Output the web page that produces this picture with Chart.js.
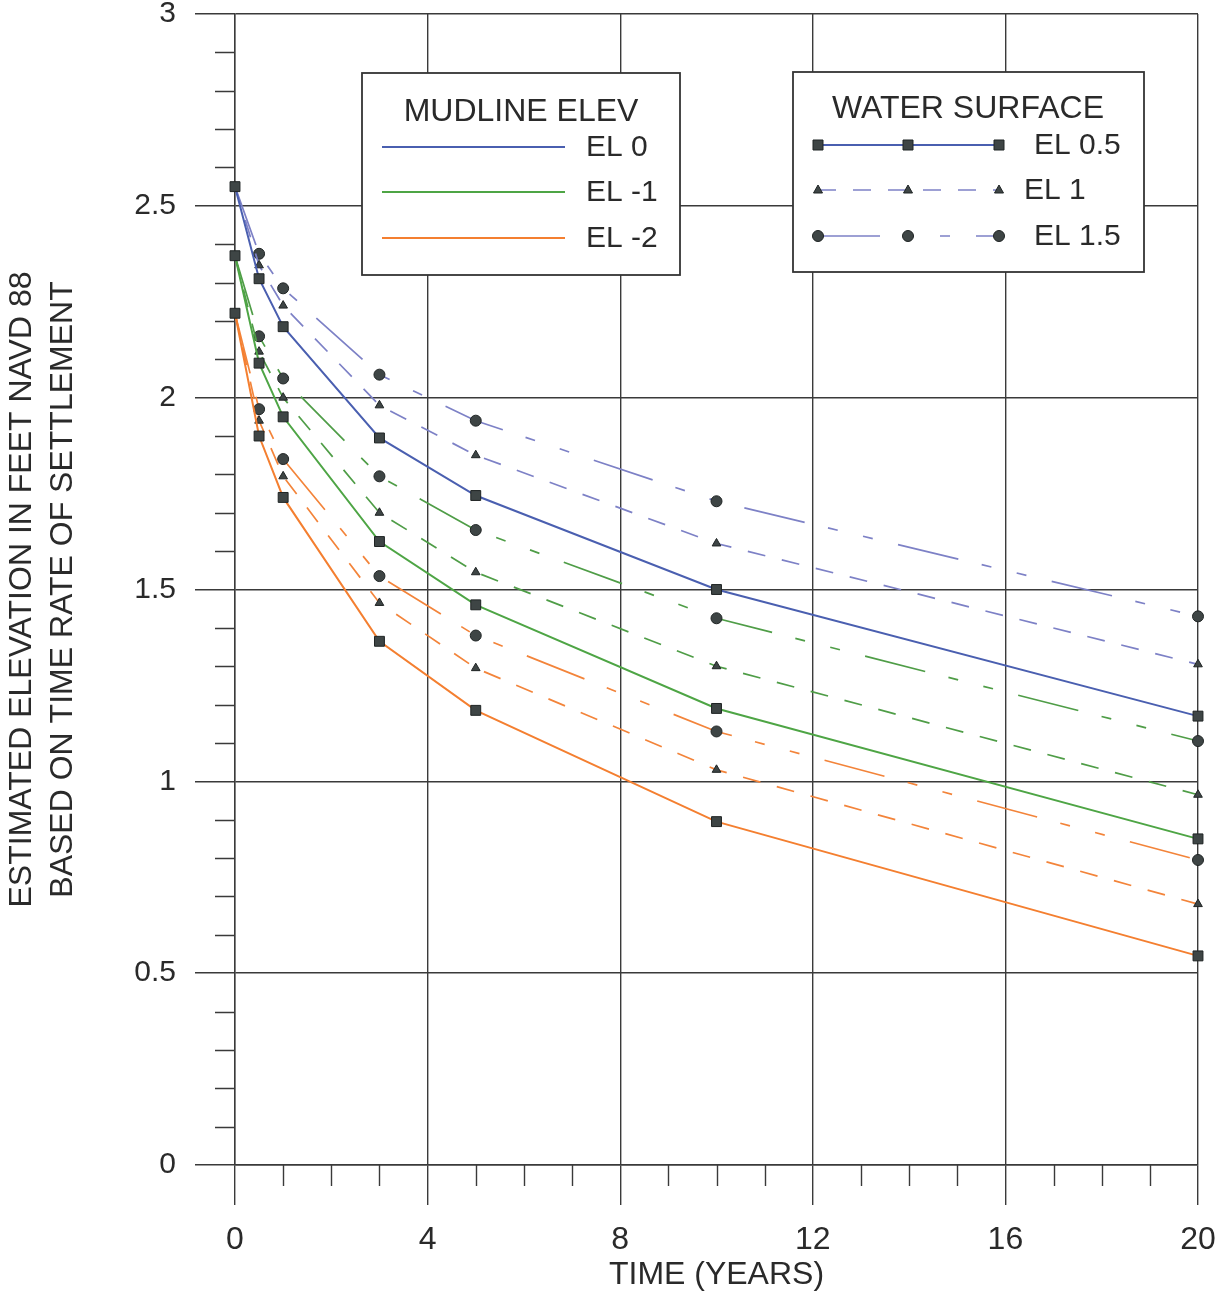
<!DOCTYPE html>
<html>
<head>
<meta charset="utf-8">
<title>Estimated elevation vs time</title>
<script src="https://cdn.jsdelivr.net/npm/chart.js@4.4.1/dist/chart.umd.min.js"></script>
<style>
  html, body { margin: 0; padding: 0; background: #fff; }
  #wrap { width: 1220px; height: 1293px; }
</style>
</head>
<body>
<div id="wrap"><canvas id="settleChart" width="1220" height="1293"></canvas></div>
<script>
// time after placement, years
const years = [0, 0.5, 1, 3, 5, 10, 20];

// mudline EL 0, water surface EL 0.5 / 1 / 1.5
const mud0Ws05 = [2.55, 2.31, 2.185, 1.895, 1.745, 1.50, 1.17];
const mud0Ws10 = [2.55, 2.345, 2.24, 1.98, 1.85, 1.62, 1.305];
const mud0Ws15 = [2.55, 2.375, 2.285, 2.06, 1.94, 1.73, 1.43];

// mudline EL -1
const mudM1Ws05 = [2.37, 2.09, 1.95, 1.625, 1.46, 1.19, 0.85];
const mudM1Ws10 = [2.37, 2.12, 2.00, 1.70, 1.545, 1.30, 0.965];
const mudM1Ws15 = [2.37, 2.16, 2.05, 1.795, 1.655, 1.425, 1.105];

// mudline EL -2
const mudM2Ws05 = [2.22, 1.90, 1.74, 1.365, 1.185, 0.895, 0.545];
const mudM2Ws10 = [2.22, 1.94, 1.795, 1.465, 1.295, 1.03, 0.68];
const mudM2Ws15 = [2.22, 1.97, 1.84, 1.535, 1.38, 1.13, 0.795];

const xTicks = [0, 4, 8, 12, 16, 20];
const yTicks = [0, 0.5, 1, 1.5, 2, 2.5, 3];

const mudLabels = ['EL 0', 'EL -1', 'EL -2'];
const waterLabels = ['EL 0.5', 'EL 1', 'EL 1.5'];

const FONT = '"Liberation Sans", Arial, Helvetica, sans-serif';
const INK = '#2a2a2a';
const GRID = '#3a3a3a';
const MARK_FILL = '#3e4545';
const MARK_EDGE = '#1f2424';

const colors = {
  blue:   { solid: '#4a5fb0', dash: '#7d81c6' },
  green:  { solid: '#4ea545', dash: '#4f9d47' },
  orange: { solid: '#f47f30', dash: '#f3843a' }
};

const dashTri = [18, 17];
const dashCirc = [62, 24, 10, 26, 10, 26];

function pts(vals) {
  return vals.map((v, i) => ({ x: years[i], y: v }));
}

function squareSet(label, vals, col) {
  return {
    label, data: pts(vals),
    borderColor: col.solid, borderWidth: 2,
    pointStyle: 'rect', pointRadius: 7, pointHoverRadius: 7,
    pointBackgroundColor: MARK_FILL, pointBorderColor: MARK_EDGE, pointBorderWidth: 1,
    tension: 0, clip: false
  };
}
function triSet(label, vals, col) {
  return {
    label, data: pts(vals),
    borderColor: col.dash, borderWidth: 1.7, borderDash: dashTri,
    pointStyle: 'triangle', pointRadius: vals.map((v, i) => i === 0 ? 0 : 5),
    pointBackgroundColor: MARK_FILL, pointBorderColor: MARK_EDGE, pointBorderWidth: 1,
    tension: 0, clip: false
  };
}
function circSet(label, vals, col) {
  return {
    label, data: pts(vals),
    borderColor: col.dash, borderWidth: 1.7, borderDash: dashCirc,
    pointStyle: 'circle', pointRadius: vals.map((v, i) => i === 0 ? 0 : 5.5),
    pointBackgroundColor: MARK_FILL, pointBorderColor: MARK_EDGE, pointBorderWidth: 1,
    tension: 0, clip: false
  };
}

// squares first so they sit on top of the other markers
const datasets = [
  squareSet('EL 0 / 0.5', mud0Ws05, colors.blue),
  squareSet('EL -1 / 0.5', mudM1Ws05, colors.green),
  squareSet('EL -2 / 0.5', mudM2Ws05, colors.orange),
  triSet('EL 0 / 1', mud0Ws10, colors.blue),
  triSet('EL -1 / 1', mudM1Ws10, colors.green),
  triSet('EL -2 / 1', mudM2Ws10, colors.orange),
  circSet('EL 0 / 1.5', mud0Ws15, colors.blue),
  circSet('EL -1 / 1.5', mudM1Ws15, colors.green),
  circSet('EL -2 / 1.5', mudM2Ws15, colors.orange)
];

function drawMarker(ctx, style, x, y) {
  ctx.fillStyle = MARK_FILL;
  ctx.strokeStyle = MARK_EDGE;
  ctx.lineWidth = 1;
  ctx.setLineDash([]);
  ctx.beginPath();
  if (style === 'rect') {
    ctx.rect(x - 5, y - 5, 10, 10);
  } else if (style === 'triangle') {
    ctx.moveTo(x, y - 5);
    ctx.lineTo(x + 4.5, y + 3);
    ctx.lineTo(x - 4.5, y + 3);
    ctx.closePath();
  } else {
    ctx.arc(x, y, 5.5, 0, Math.PI * 2);
  }
  ctx.fill();
  ctx.stroke();
}

// small ticks: every year on x, every 0.1 on y
const minorTicks = {
  id: 'minorTicks',
  afterDraw(chart) {
    const { ctx, scales: { x, y } } = chart;
    ctx.save();
    ctx.strokeStyle = GRID;
    ctx.lineWidth = 1.4;
    ctx.beginPath();
    for (let i = 1; i < 20; i++) {
      if (i % 4 === 0) continue;
      const px = Math.round(x.getPixelForValue(i)) + 0.5;
      ctx.moveTo(px, y.bottom);
      ctx.lineTo(px, y.bottom + 21);
    }
    for (let i = 1; i < 30; i++) {
      if (i % 5 === 0) continue;
      const py = Math.round(y.getPixelForValue(i / 10)) + 0.5;
      ctx.moveTo(x.left - 20, py);
      ctx.lineTo(x.left, py);
    }
    ctx.stroke();
    ctx.restore();
  }
};

// the two boxed keys
const boxLegends = {
  id: 'boxLegends',
  afterDraw(chart) {
    const ctx = chart.ctx;
    ctx.save();

    // mudline key
    ctx.fillStyle = '#fff';
    ctx.fillRect(362, 73, 318, 202);
    ctx.strokeStyle = '#333';
    ctx.lineWidth = 1.8;
    ctx.strokeRect(362, 73, 318, 202);
    ctx.fillStyle = INK;
    ctx.textBaseline = 'middle';
    ctx.textAlign = 'center';
    ctx.font = '32px ' + FONT;
    ctx.fillText('MUDLINE ELEV', 521, 112);
    const mudCols = [colors.blue.solid, colors.green.solid, colors.orange.solid];
    const mudRows = [147, 192, 238];
    ctx.textAlign = 'left';
    ctx.font = '30px ' + FONT;
    mudRows.forEach((ry, i) => {
      ctx.strokeStyle = mudCols[i];
      ctx.lineWidth = 1.8;
      ctx.beginPath();
      ctx.moveTo(382, ry);
      ctx.lineTo(565, ry);
      ctx.stroke();
      ctx.fillStyle = INK;
      ctx.fillText(mudLabels[i], 586, ry + 1);
    });

    // water surface key
    ctx.fillStyle = '#fff';
    ctx.fillRect(793, 72, 351, 200);
    ctx.strokeStyle = '#333';
    ctx.lineWidth = 1.8;
    ctx.strokeRect(793, 72, 351, 200);
    ctx.fillStyle = INK;
    ctx.textAlign = 'center';
    ctx.font = '32px ' + FONT;
    ctx.fillText('WATER SURFACE', 968, 109);

    const wRows = [145, 190, 236];
    const wStyles = ['rect', 'triangle', 'circle'];
    const wDash = [[], dashTri, dashCirc];
    const wCols = [colors.blue.solid, colors.blue.dash, colors.blue.dash];
    const wTextX = [1034, 1024, 1034];
    const mx = [818, 908, 999];
    ctx.font = '30px ' + FONT;
    wRows.forEach((ry, i) => {
      ctx.strokeStyle = wCols[i];
      ctx.lineWidth = i === 0 ? 2 : 1.6;
      ctx.setLineDash(wDash[i]);
      ctx.beginPath();
      ctx.moveTo(mx[0], ry);
      ctx.lineTo(mx[2], ry);
      ctx.stroke();
      mx.forEach(px => drawMarker(ctx, wStyles[i], px, ry));
      ctx.fillStyle = INK;
      ctx.textAlign = 'left';
      ctx.fillText(waterLabels[i], wTextX[i], ry + 1);
    });

    ctx.restore();
  }
};

new Chart(document.getElementById('settleChart'), {
  type: 'line',
  data: { datasets },
  plugins: [minorTicks, boxLegends],
  options: {
    responsive: false,
    animation: false,
    events: [],
    layout: { padding: { top: 14, right: 22, left: 0, bottom: 0 } },
    plugins: {
      legend: { display: false },
      tooltip: { enabled: false }
    },
    scales: {
      x: {
        type: 'linear',
        min: 0,
        max: 20,
        afterBuildTicks: s => { s.ticks = xTicks.map(v => ({ value: v })); },
        afterFit: s => { s.height = 128; s.paddingLeft = 0; s.paddingRight = 0; },
        ticks: {
          color: INK,
          padding: 16,
          font: { family: FONT, size: 32 },
          maxRotation: 0,
          callback: v => String(v)
        },
        grid: { color: GRID, lineWidth: 1.4, tickLength: 40, tickColor: GRID },
        border: { display: true, color: GRID, width: 1.4 },
        title: {
          display: true,
          text: 'TIME (YEARS)',
          color: INK,
          font: { family: FONT, size: 32, lineHeight: 1.1 },
          padding: { top: 0, bottom: 0 }
        }
      },
      y: {
        type: 'linear',
        min: 0,
        max: 3,
        afterBuildTicks: s => { s.ticks = yTicks.map(v => ({ value: v })); },
        afterFit: s => { s.width = 235; s.paddingTop = 0; s.paddingBottom = 0; },
        ticks: {
          color: INK,
          padding: 19,
          font: { family: FONT, size: 30 },
          callback: v => String(v)
        },
        grid: { color: GRID, lineWidth: 1.4, tickLength: 40, tickColor: GRID },
        border: { display: true, color: GRID, width: 1.4 },
        title: {
          display: true,
          text: ['ESTIMATED ELEVATION IN FEET NAVD 88', 'BASED ON TIME RATE OF SETTLEMENT'],
          color: INK,
          font: { family: FONT, size: 32, lineHeight: 1.28 },
          padding: { top: 2, bottom: 0 }
        }
      }
    }
  }
});
</script>
</body>
</html>
